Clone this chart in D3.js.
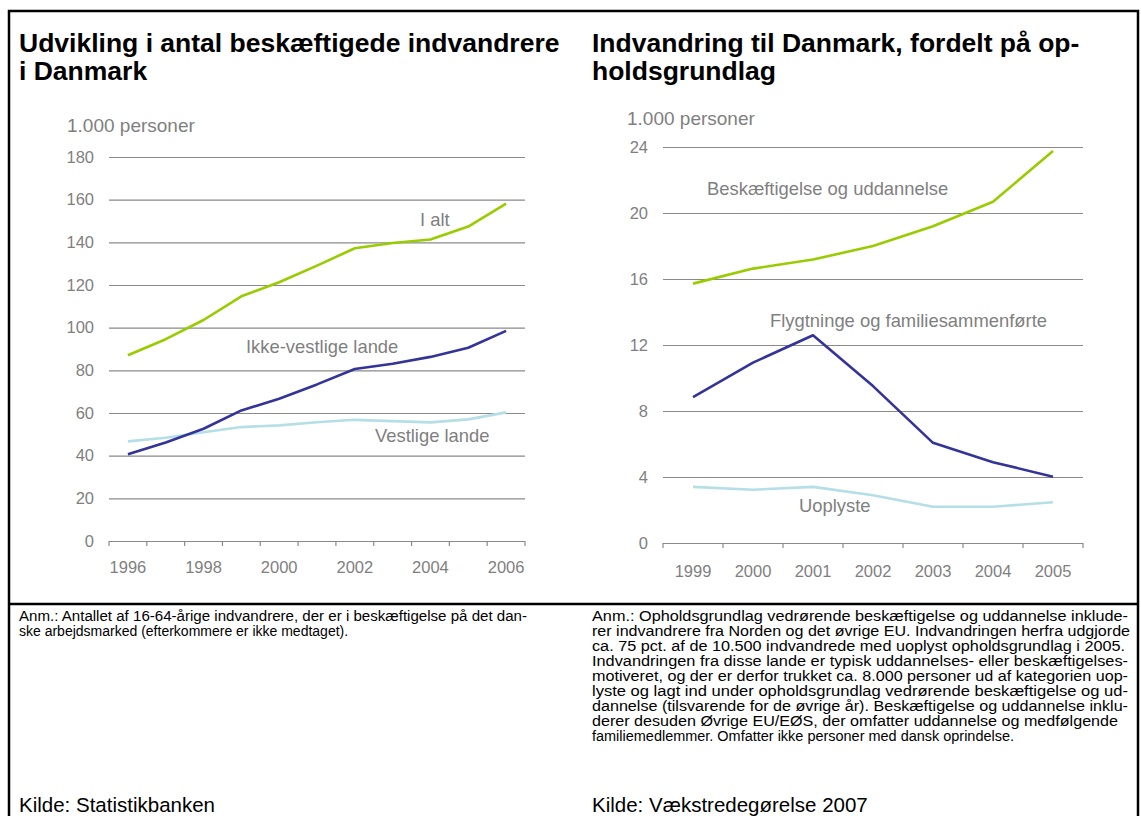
<!DOCTYPE html>
<html>
<head>
<meta charset="utf-8">
<script src="https://cdn.jsdelivr.net/npm/d3@7"></script>
<style>
  body { margin: 0; background: #fff; }
  svg { font-family: "Liberation Sans", Arial, sans-serif; }
</style>
</head>
<body>
<svg id="chart" width="1141" height="816"></svg>
<script>
// venstre figur
let aarA = ["1996","1997","1998","1999","2000","2001","2002","2003","2004","2005","2006"];
let iAlt = [87.1, 94.6, 103.6, 114.7, 121.3, 129.1, 137.2, 139.7, 141.3, 147.4, 158.1];
let ikkeVestlige = [40.7, 46.2, 52.6, 61.2, 66.7, 73.4, 80.6, 83.1, 86.3, 90.6, 98.5];
let vestlige = [46.7, 48.4, 51.0, 53.4, 54.2, 55.7, 56.8, 56.2, 55.6, 57.0, 60.3];
let ticksA = [0, 20, 40, 60, 80, 100, 120, 140, 160, 180];
let visteAarA = ["1996","1998","2000","2002","2004","2006"];

// højre figur
let aarB = ["1999","2000","2001","2002","2003","2004","2005"];
let beskaeft = [15.72, 16.63, 17.18, 18.0, 19.2, 20.68, 23.76];
let flygtninge = [8.84, 10.93, 12.59, 9.51, 6.07, 4.9, 4.02];
let uoplyste = [3.4, 3.23, 3.4, 2.89, 2.2, 2.2, 2.47];
let ticksB = [0, 4, 8, 12, 16, 20, 24];

let groen = "#99cc00", blaa = "#333399", lyseblaa = "#b4dfe6", graa = "#7f7f7f";

let svg = d3.select("#chart");

// ramme
svg.append("path")
    .attr("d", "M9,816 V11 H1138 V816")
    .attr("fill", "none").attr("stroke", "#000").attr("stroke-width", 2.5);
svg.append("line")
    .attr("x1", 9).attr("x2", 1138).attr("y1", 604).attr("y2", 604)
    .attr("stroke", "#000").attr("stroke-width", 2.5);

function titel(x, linjer) {
    svg.append("text")
        .attr("x", x).attr("y", 52)
        .style("font-size", "26.5px").style("font-weight", "bold")
        .selectAll("tspan").data(linjer).enter()
            .append("tspan").attr("x", x).attr("dy", (d, i) => i ? 28 : 0)
            .text(d => d);
}
titel(19, ["Udvikling i antal beskæftigede indvandrere", "i Danmark"]);
titel(592, ["Indvandring til Danmark, fordelt på op-", "holdsgrundlag"]);

function figur(o) {
    let x = d3.scaleBand().domain(o.aar).range([o.x0, o.x1]).padding(0);
    let y = d3.scaleLinear().domain([0, o.max]).range([o.y0, o.y1]);
    let g = svg.append("g");

    g.append("text")
        .attr("x", o.enhedX).attr("y", o.enhedY)
        .attr("fill", graa).style("font-size", "19px")
        .text("1.000 personer");

    // gitter + y-akse
    let ya = g.append("g")
        .attr("transform", `translate(${o.x0},0)`)
        .call(d3.axisLeft(y).tickValues(o.ticks).tickSize(-(o.x1 - o.x0)).tickPadding(15));
    ya.select(".domain").remove();
    ya.selectAll(".tick line").attr("stroke", "#8a8a8a").attr("stroke-width", 1.2);
    ya.selectAll(".tick text").attr("fill", graa).style("font-size", "16.5px")
        .style("font-family", "Liberation Sans, Arial, sans-serif");

    // x-akse: streger ved grænserne, tekster i midten
    let grænser = o.aar.map(d => x(d)).concat([o.x1]);
    g.selectAll(".xt").data(grænser).enter()
        .append("line")
        .attr("x1", d => d).attr("x2", d => d)
        .attr("y1", o.y0).attr("y2", o.y0 + 5)
        .attr("stroke", "#8a8a8a").attr("stroke-width", 1.2);
    let xa = g.append("g")
        .attr("transform", `translate(0,${o.y0})`)
        .call(d3.axisBottom(x).tickSize(0).tickPadding(o.xPad)
            .tickFormat(d => o.vist.includes(d) ? d : ""));
    xa.select(".domain").remove();
    xa.selectAll(".tick text").attr("fill", graa).style("font-size", "16.5px")
        .style("font-family", "Liberation Sans, Arial, sans-serif");

    let linje = d3.line()
        .x((d, i) => x(o.aar[i]) + x.bandwidth() / 2)
        .y(d => y(d));

    o.serier.forEach(s => {
        g.append("path")
            .datum(s.v)
            .attr("d", linje)
            .attr("fill", "none")
            .attr("stroke", s.farve)
            .attr("stroke-width", 2.6)
            .attr("stroke-linejoin", "round");
        g.append("text")
            .attr("x", s.lx).attr("y", s.ly)
            .attr("fill", graa).style("font-size", "18.4px")
            .text(s.navn);
    });
}

figur({
    aar: aarA, vist: visteAarA, ticks: ticksA, max: 180,
    x0: 109, x1: 525, y0: 541, y1: 157, xPad: 20,
    enhedX: 67, enhedY: 131.5,
    serier: [
        {v: vestlige, farve: lyseblaa, navn: "Vestlige lande", lx: 375, ly: 441.5},
        {v: ikkeVestlige, farve: blaa, navn: "Ikke-vestlige lande", lx: 246, ly: 352.5},
        {v: iAlt, farve: groen, navn: "I alt", lx: 420, ly: 225.5}
    ]
});

figur({
    aar: aarB, vist: aarB, ticks: ticksB, max: 24,
    x0: 663, x1: 1083, y0: 543, y1: 147, xPad: 22,
    enhedX: 627, enhedY: 124.5,
    serier: [
        {v: uoplyste, farve: lyseblaa, navn: "Uoplyste", lx: 799, ly: 511.5},
        {v: flygtninge, farve: blaa, navn: "Flygtninge og familiesammenførte", lx: 770, ly: 326.5},
        {v: beskaeft, farve: groen, navn: "Beskæftigelse og uddannelse", lx: 707, ly: 194.5}
    ]
});

// noter (lige højremargen)
let noteA = [
    "Anm.: Antallet af 16-64-årige indvandrere, der er i beskæftigelse på det dan-",
    "ske arbejdsmarked (efterkommere er ikke medtaget)."
];
let noteB = [
    "Anm.:  Opholdsgrundlag vedrørende beskæftigelse og uddannelse inklude-",
    "rer indvandrere fra Norden og det øvrige EU. Indvandringen herfra udgjorde",
    "ca. 75 pct. af de 10.500 indvandrede med uoplyst opholdsgrundlag i 2005.",
    "Indvandringen fra disse lande er typisk uddannelses- eller beskæftigelses-",
    "motiveret, og der er derfor trukket ca. 8.000 personer ud af kategorien uop-",
    "lyste og lagt ind under opholdsgrundlag vedrørende beskæftigelse og ud-",
    "dannelse (tilsvarende for de øvrige år). Beskæftigelse og uddannelse inklu-",
    "derer desuden Øvrige EU/EØS, der omfatter uddannelse og medfølgende",
    "familiemedlemmer. Omfatter ikke personer med dansk oprindelse."
];

function note(x, linjer, bredde) {
    svg.append("text")
        .attr("x", x).attr("y", 621)
        .style("font-size", "14px").attr("fill", "#000")
        .selectAll("tspan").data(linjer).enter()
            .append("tspan").attr("x", x).attr("dy", (d, i) => i ? 15 : 0)
            .text(d => d)
            .each(function(d, i) {
                if (bredde[i]) d3.select(this)
                    .attr("textLength", bredde[i]).attr("lengthAdjust", "spacingAndGlyphs");
            });
}
note(19, noteA, [508]);
note(592, noteB, [536, 538, 533, 536, 536, 536, 536, 526, 422]);

svg.append("text").attr("x", 19).attr("y", 812)
    .style("font-size", "20.5px").text("Kilde: Statistikbanken");
svg.append("text").attr("x", 592).attr("y", 812)
    .style("font-size", "20.5px").text("Kilde: Vækstredegørelse 2007");
</script>
</body>
</html>
